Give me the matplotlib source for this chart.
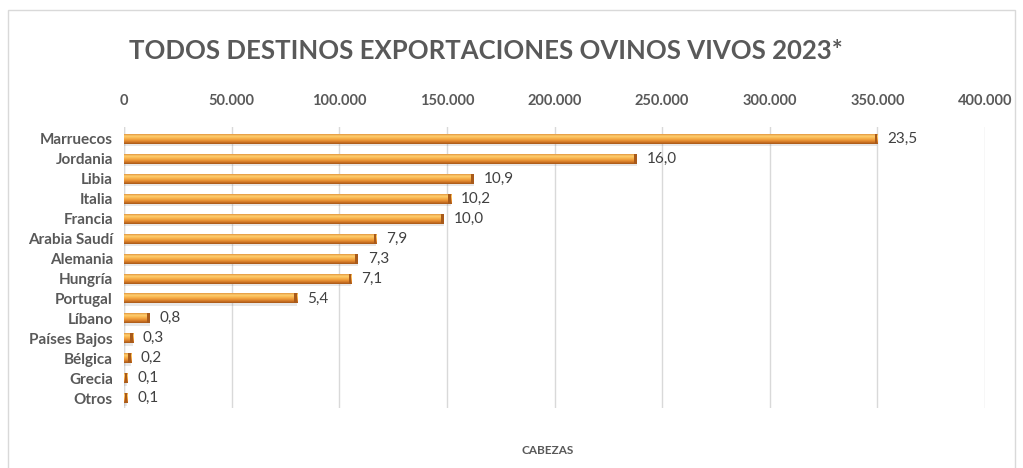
import numpy as np
import matplotlib
matplotlib.use('Agg')
import matplotlib.pyplot as plt
from matplotlib.patches import Rectangle
from matplotlib.colors import LinearSegmentedColormap

plt.rcParams['font.family'] = ['Lato', 'DejaVu Sans']

# datos
paises = ['Marruecos', 'Jordania', 'Libia', 'Italia', 'Francia', 'Arabia Saudí',
          'Alemania', 'Hungría', 'Portugal', 'Líbano', 'Países Bajos', 'Bélgica',
          'Grecia', 'Otros']
cabezas = [350000, 238300, 162500, 152000, 148500, 117300,
           108700, 105600, 80400, 12000, 4300, 3300, 1600, 1600]
porcentaje = ['23,5', '16,0', '10,9', '10,2', '10,0', '7,9',
              '7,3', '7,1', '5,4', '0,8', '0,3', '0,2', '0,1', '0,1']
ticks = [0, 50000, 100000, 150000, 200000, 250000, 300000, 350000, 400000]
tick_labels = ['0', '50.000', '100.000', '150.000', '200.000', '250.000',
               '300.000', '350.000', '400.000']

gris = '#595959'

fig = plt.figure(figsize=(10.23, 4.68), dpi=100)
ax = fig.add_axes([0.1212, 0.128, 0.8417, 0.6006])

y = np.arange(len(paises))
alto = 0.5

# sombra suave bajo cada barra
ax.barh(y + 0.12, cabezas, height=alto, color='#808080', alpha=0.18, edgecolor='none', zorder=2)
bars = ax.barh(y, cabezas, height=alto, color='#E8923A', edgecolor='none', zorder=3)

# degradado tipo cilindro (arriba -> abajo)
cmap = LinearSegmentedColormap.from_list(
    'cil', ['#E0903A', '#FFD373', '#F9B650', '#EE9A38', '#D27826', '#A35517'])
grad = np.linspace(0, 1, 64).reshape(-1, 1)
for b in bars:
    x0, y0 = b.get_x(), b.get_y()
    w, h = b.get_width(), b.get_height()
    im = ax.imshow(grad, cmap=cmap, aspect='auto', extent=[x0, x0 + w, y0 + h, y0],
                   origin='upper', zorder=4, interpolation='bicubic')
    im.set_clip_path(b)
    # tapa del extremo derecho
    ax.add_patch(Rectangle((x0 + w - 1300, y0), 1300, h, color='#A85A1A', zorder=5, lw=0))

for i, (v, p) in enumerate(zip(cabezas, porcentaje)):
    ax.text(v + 4500, i, p, va='center', ha='left', fontsize=11, color='#404040')

ax.set_xlim(0, 400000)
ax.set_ylim(len(paises) - 0.5, -0.6)
ax.set_yticks(y)
ax.set_yticklabels(paises, fontsize=11, fontweight='bold', color=gris)
ax.xaxis.tick_top()
ax.set_xticks(ticks)
ax.set_xticklabels(tick_labels, fontsize=10.5, fontweight='bold', color=gris)
ax.tick_params(axis='both', length=0, pad=8)
ax.tick_params(axis='x', pad=14)
ax.grid(axis='x', color='#D9D9D9', lw=1, zorder=0)
for s in ax.spines.values():
    s.set_visible(False)
ax.axvline(0, color='#D9D9D9', lw=1, zorder=1)

fig.text(0.475, 0.89, 'TODOS DESTINOS EXPORTACIONES OVINOS VIVOS 2023*', ha='center', va='center',
         fontsize=18.5, fontweight='bold', color=gris)
fig.text(0.535, 0.038, 'CABEZAS', ha='center', va='center', fontsize=8.5, fontweight='bold', color=gris)

fig.patches.append(Rectangle((8 / 1023, -0.01), 1007 / 1023, 1 - 10 / 468 + 0.01,
                             transform=fig.transFigure, fill=False, edgecolor='#D9D9D9', lw=1))

fig.savefig('out.png', dpi=100, facecolor='white')
